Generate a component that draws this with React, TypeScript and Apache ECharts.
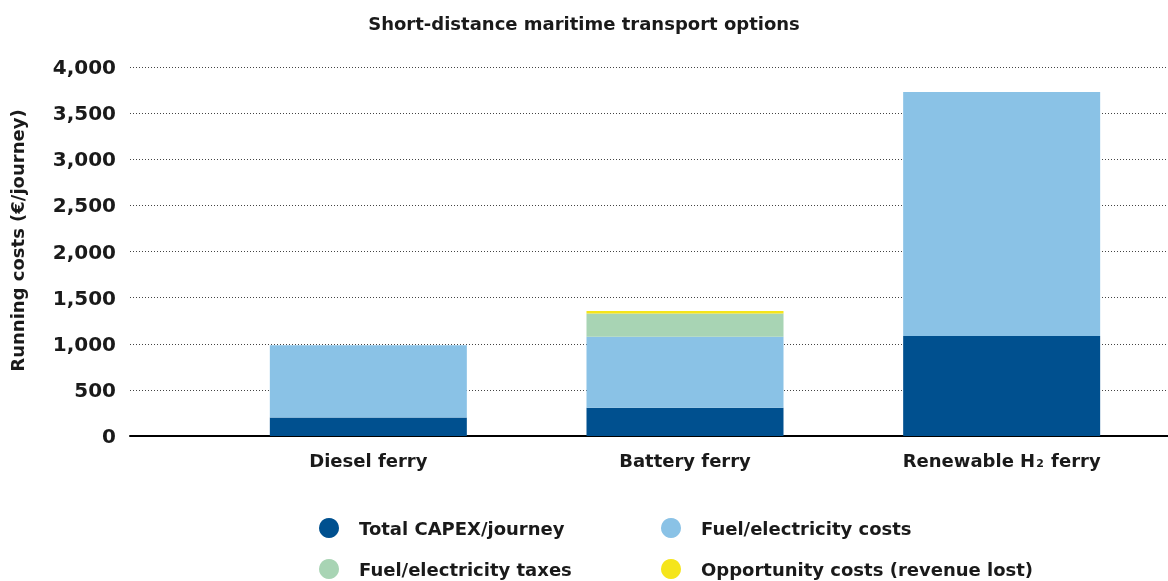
import React, { useEffect, useRef } from "react";
import * as echarts from "echarts";

const categories = ["Diesel ferry", "Battery ferry", "Renewable H₂ ferry"];
const capex = [200, 305, 1085];
const fuelCosts = [785, 770, 2645];
const fuelTaxes = [0, 253, 0];
const opportunity = [0, 28, 0];
const yTicks = [0, 500, 1000, 1500, 2000, 2500, 3000, 3500, 4000];

const seriesNames = [
  "Total CAPEX/journey",
  "Fuel/electricity costs",
  "Fuel/electricity taxes",
  "Opportunity costs (revenue lost)",
];
const colors = ["#00508F", "#8AC2E6", "#A8D4B4", "#F5E51B"];
const FONT = "DejaVu Sans";
const TXT = "#1a1a1a";

export default function App() {
  const ref = useRef<HTMLDivElement>(null);
  useEffect(() => {
    if (!ref.current) return;
    const chart = echarts.init(ref.current, null, { renderer: "svg" });
    const yMax = yTicks[yTicks.length - 1];
    const legendItem = (name: string, left: number, top: number) => ({
      data: [name],
      left,
      top,
      padding: 0,
      icon: "circle",
      itemWidth: 20,
      itemHeight: 20,
      selectedMode: false,
      textStyle: {
        fontFamily: FONT,
        fontSize: 18,
        fontWeight: "bold",
        color: TXT,
        padding: [0, 0, 0, 15],
      },
    });
    chart.setOption({
      animation: false,
      textStyle: { fontFamily: FONT },
      title: {
        text: "Short-distance maritime transport options",
        left: "center",
        top: 14,
        padding: 0,
        textStyle: { fontFamily: FONT, fontSize: 18, fontWeight: "bold", color: TXT },
      },
      legend: [
        legendItem(seriesNames[0], 319, 518),
        legendItem(seriesNames[1], 661, 518),
        legendItem(seriesNames[2], 319, 559),
        legendItem(seriesNames[3], 661, 559),
      ],
      grid: [
        { left: 130, right: 0, top: 67, bottom: 145 },
        { left: 210, right: 8, top: 67, bottom: 145 },
      ],
      xAxis: [
        {
          type: "category",
          gridIndex: 0,
          data: [""],
          axisLine: { show: true, lineStyle: { color: "#000", width: 2 } },
          axisTick: { show: false },
          axisLabel: { show: false },
        },
        {
          type: "category",
          gridIndex: 1,
          data: categories,
          axisLine: { show: false },
          axisTick: { show: false },
          axisLabel: {
            interval: 0,
            margin: 15,
            fontFamily: FONT,
            fontSize: 18,
            fontWeight: "bold",
            color: TXT,
            formatter: (v: string) =>
              v.indexOf("H₂") >= 0 ? v.replace("H₂", "H{sub|2}") : v,
            rich: {
              sub: {
                fontFamily: FONT,
                fontSize: 11,
                fontWeight: "bold",
                color: TXT,
                verticalAlign: "bottom",
                padding: [7, 1, 0, 1],
              },
            },
          },
        },
      ],
      yAxis: [
        {
          type: "value",
          gridIndex: 0,
          min: 0,
          max: yMax,
          interval: 500,
          name: "Running costs (€/journey)",
          nameLocation: "middle",
          nameGap: 104,
          nameTextStyle: {
            fontFamily: FONT,
            fontSize: 18,
            fontWeight: "bold",
            color: TXT,
            padding: [0, 0, 0, 22],
          },
          axisLine: { show: false },
          axisTick: { show: false },
          axisLabel: {
            margin: 14,
            fontFamily: FONT,
            fontSize: 20,
            fontWeight: "bold",
            color: TXT,
            formatter: (v: number) => v.toLocaleString("en-US"),
          },
          splitLine: {
            show: true,
            lineStyle: { type: [1, 2], color: "#444", width: 1 },
          },
        },
        {
          type: "value",
          gridIndex: 1,
          min: 0,
          max: yMax,
          interval: 500,
          show: false,
          splitLine: { show: false },
        },
      ],
      series: [capex, fuelCosts, fuelTaxes, opportunity].map((d, i) => ({
        name: seriesNames[i],
        type: "bar",
        stack: "total",
        xAxisIndex: 1,
        yAxisIndex: 1,
        barWidth: 197,
        data: d,
        itemStyle: { color: colors[i] },
      })),
    });
    return () => chart.dispose();
  }, []);
  return (
    <div
      ref={ref}
      style={{ position: "fixed", left: 0, top: 0, width: 1168, height: 581 }}
    />
  );
}
